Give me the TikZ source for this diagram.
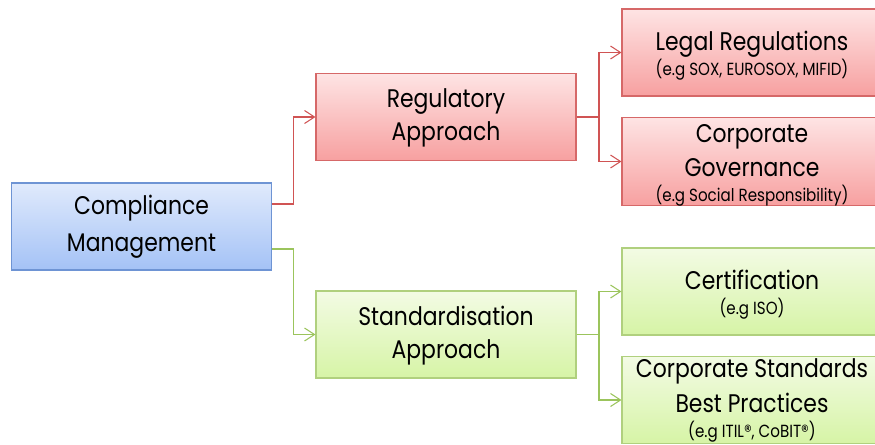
\documentclass[tikz,border=0pt]{standalone}
\usepackage{fontspec}
\setmainfont{Poppins}[FakeStretch=0.86]
\usetikzlibrary{positioning,arrows.meta,calc}

\definecolor{bluedraw}{RGB}{110,148,212}
\definecolor{bluetop}{RGB}{224,234,252}
\definecolor{bluebot}{RGB}{164,194,246}
\definecolor{reddraw}{RGB}{214,104,104}
\definecolor{redtop}{RGB}{254,228,228}
\definecolor{redbot}{RGB}{247,160,160}
\definecolor{redline}{RGB}{208,84,84}
\definecolor{greendraw}{RGB}{176,208,126}
\definecolor{greentop}{RGB}{243,251,228}
\definecolor{greenbot}{RGB}{214,244,166}
\definecolor{greenline}{RGB}{155,196,92}

\tikzstyle{box} = [rectangle, draw, line width=0.6pt, minimum width=5.2cm,
    minimum height=1.74cm, inner sep=0pt, align=center,
    font=\fontsize{14.5}{19}\selectfont]
\tikzstyle{rootbox} = [box, draw=bluedraw, top color=bluetop, bottom color=bluebot]
\tikzstyle{regbox} = [box, draw=reddraw, top color=redtop, bottom color=redbot]
\tikzstyle{stdbox} = [box, draw=greendraw, top color=greentop, bottom color=greenbot]
\tikzstyle{regline} = [draw=redline, line width=0.6pt]
\tikzstyle{stdline} = [draw=greenline, line width=0.6pt]

\newcommand{\egstrut}{\rule{0pt}{14.5pt}}
\newcommand{\eglabel}[1]{\\[-4.8pt]{\fontsize{10}{12}\selectfont #1}}

\begin{document}
\begin{tikzpicture}[node distance=2cm, on grid,
    >={Straight Barb[length=2mm,width=2.6mm]}]

    \useasboundingbox (0,0) rectangle (17.5,-8.88);
    \clip (0,0) rectangle (17.5,-8.88);

    % Nodes
    \node [rootbox] (comp) at (2.83,-4.53) {Compliance\\[2pt]Management};
    \node [regbox, above right=2.19cm and 6.09cm of comp] (reg)
        {\rule{0pt}{12pt}Regulatory\\Approach};
    \node [stdbox, below right=2.16cm and 6.09cm of comp] (std)
        {\rule{0pt}{12pt}Standardisation\\Approach};

    \node [regbox, above right=1.29cm and 6.12cm of reg] (legal)
        {\egstrut Legal Regulations\eglabel{(e.g SOX, EUROSOX, MIFID)}};
    \node [regbox, below right=0.89cm and 6.12cm of reg] (gov)
        {\egstrut Corporate\\Governance\eglabel{(e.g Social Responsibility)}};
    \node [stdbox, above right=0.86cm and 6.12cm of std] (cert)
        {\egstrut Certification\eglabel{(e.g ISO)}};
    \node [stdbox, below right=1.31cm and 6.12cm of std] (cstd)
        {\rule{0pt}{11.5pt}Corporate Standards\\[1pt]Best Practices\eglabel{(e.g ITIL®, CoBIT®)}};

    % Junctions
    \coordinate (j1) at ($(comp.east)!0.5!(reg.west |- comp.east)$);
    \coordinate (j2) at ($(reg.east)!0.5!(legal.west |- reg.east)$);
    \coordinate (j3) at ($(std.east)!0.5!(cert.west |- std.east)$);

    % Connections
    \draw [regline, ->] ([yshift=0.45cm]comp.east) -| (j1 |- reg.west) -- (reg.west);
    \draw [stdline, ->] ([yshift=-0.45cm]comp.east) -| (j1 |- std.west) -- (std.west);
    \draw [regline, ->] (reg.east) -- (j2) |- (legal.west);
    \draw [regline, ->] (j2) |- (gov.west);
    \draw [stdline, ->] (std.east) -- (j3) |- (cert.west);
    \draw [stdline, ->] (j3) |- (cstd.west);

\end{tikzpicture}
\end{document}
